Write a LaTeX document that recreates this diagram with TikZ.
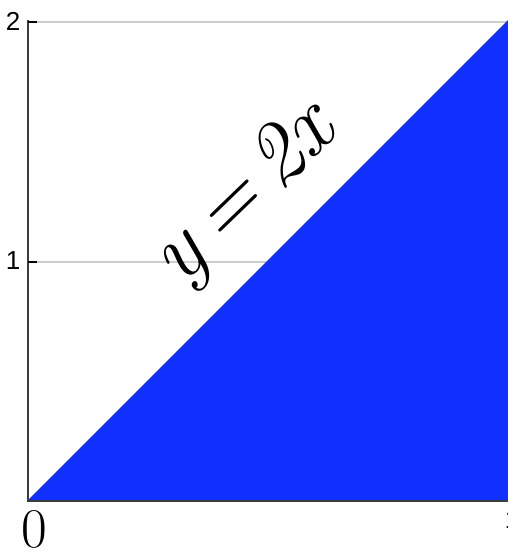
\documentclass[tikz,border=0pt]{standalone}
\usepackage{fontspec}
\newfontfamily\axfont{Liberation Sans}
\definecolor{fillblue}{RGB}{16,48,255}
\definecolor{gridgray}{RGB}{205,205,205}
\definecolor{axisgray}{RGB}{60,60,60}
\begin{document}
\begin{tikzpicture}[x=1pt,y=-1pt,
  gridline/.style={gridgray,line width=1.2pt},
  axisline/.style={axisgray,line width=2pt},
  ticklabel/.style={font=\axfont\fontsize{26}{26}\selectfont,inner sep=0pt},
  hand/.style={inner sep=0pt}]
\useasboundingbox (0,0) rectangle (508,559);
\coordinate (O) at (28,500);
\coordinate (TR) at (508,20);
\coordinate (BR) at (508,500);
\coordinate (Y2) at (28,22);
\coordinate (Y1) at (28,262);
% grid
\draw[gridline] (37,22) -- (508,22);
\draw[gridline] (37,262) -- (508,262);
% region
\fill[fillblue] (O) -- (TR) -- (BR) -- cycle;
% axes
\draw[axisline] (28,20) -- (28,501);
\draw[axisline] (27,501) -- (508,501);
\draw[black,line width=1.5pt] (Y2) -- (37,22);
\draw[black,line width=1.5pt] (Y1) -- (37,262);
% tick labels
\node[ticklabel] (l2) at (13,21) {2};
\node[ticklabel] (l1) at (13,261) {1};
\node[ticklabel] (lx1) at (512,520) {1};
% handwritten labels
\node[hand,rotate=44] (eq) at (246,196) {\fontsize{88}{94}\selectfont\itshape y\,=\,2x};
\node[hand] (zero) at (34,529) {\fontsize{56}{60}\selectfont 0};
\end{tikzpicture}
\end{document}
